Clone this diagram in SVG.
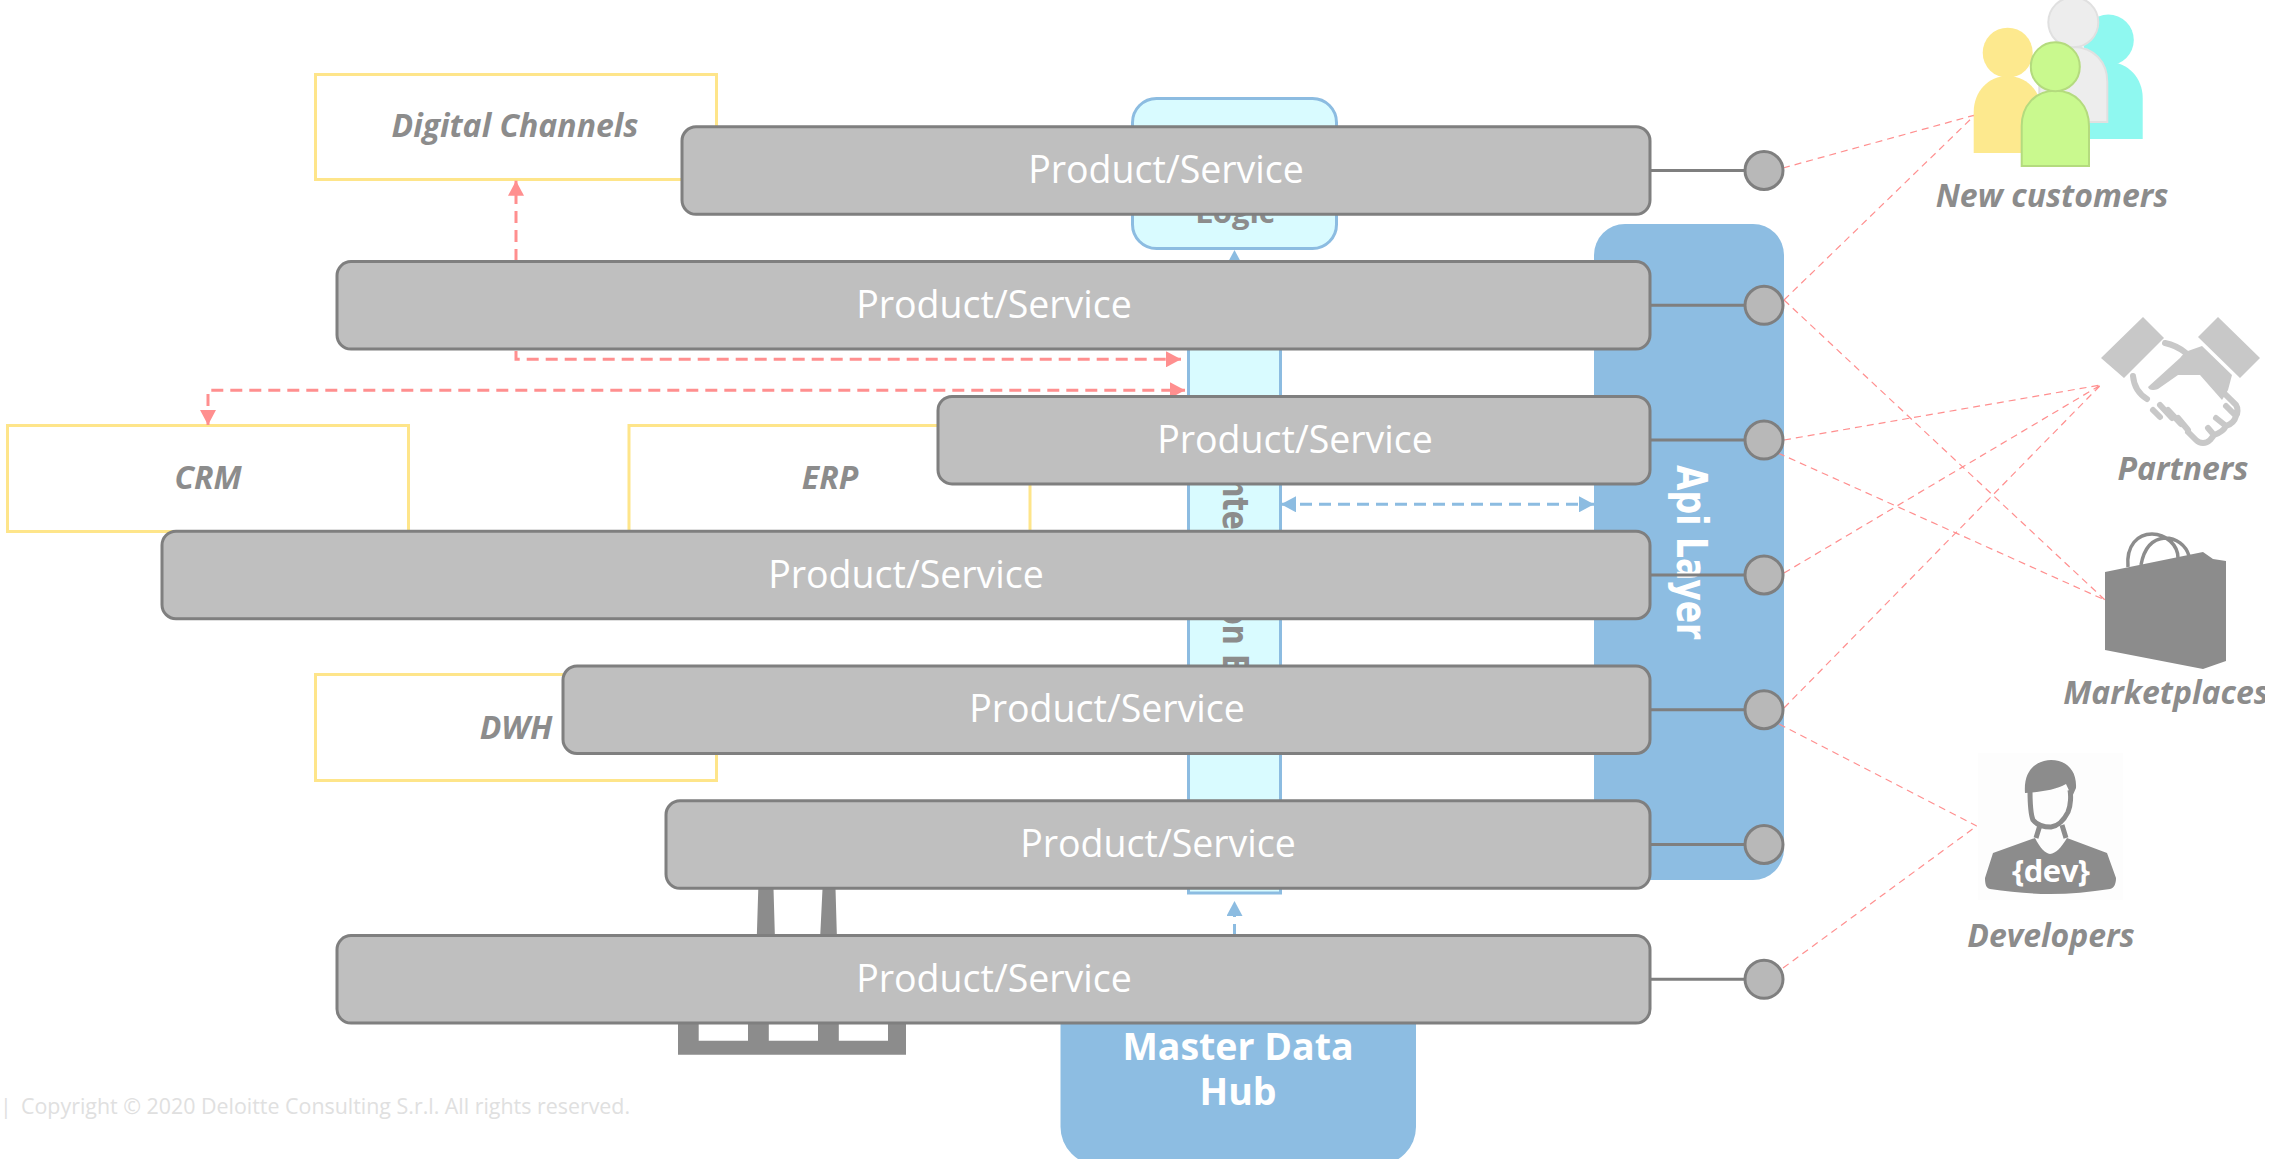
<svg xmlns="http://www.w3.org/2000/svg" width="2279" height="1159" viewBox="0 0 2279 1159">
<style>
text{font-family:"Open Sans","Noto Sans","DejaVu Sans",sans-serif}
.sys{fill:#fff;stroke:#fee58a;stroke-width:3}
.lbl{fill:#8c8c8c;font-weight:700;font-style:italic;font-size:32px;text-anchor:middle}
.bar{fill:#bfbfbf;stroke:#7f7f7f;stroke-width:3}
.barText{fill:#fff;font-size:37.500px;text-anchor:middle}
.dot{fill:#b8b8b8;stroke:#7f7f7f;stroke-width:3}
.blue{fill:#8dbde2}
.cy{fill:#d9fbff;stroke:#8cbce1;stroke-width:3}
.lead{stroke:#7f7f7f;stroke-width:3;fill:none}
.red{stroke:#ff8f8f;stroke-width:3;fill:none;stroke-dasharray:12 7}
.thin{stroke:#ff8f8f;stroke-width:1.200;fill:none;stroke-dasharray:7 5}
.bl{stroke:#8cbce1;stroke-width:3;fill:none;stroke-dasharray:12 7}
.grey{fill:#8c8c8c}
.hs{fill:#c8c8c8}
.hsl{stroke:#c8c8c8;fill:none;stroke-width:6;stroke-linecap:round}
.vert{font-family:"DejaVu Sans",sans-serif;font-weight:700}
.hd{fill:#8c8c8c;font-weight:700;font-size:31px;text-anchor:middle}
.wh{fill:#fff;font-weight:700;font-size:37.500px;text-anchor:middle}
</style>
<defs>
<marker id="ra" markerUnits="userSpaceOnUse" markerWidth="16" markerHeight="16" refX="15" refY="8" orient="auto-start-reverse"><path d="M0 0L15 8L0 16Z" fill="#ff8f8f"/></marker>
<marker id="ba" markerUnits="userSpaceOnUse" markerWidth="16" markerHeight="16" refX="15" refY="8" orient="auto-start-reverse"><path d="M0 0L15 8L0 16Z" fill="#8cbce1"/></marker>
<clipPath id="clipM"><rect x="2000" y="660" width="265" height="70"/></clipPath>
</defs>

<g id="digital-channels"><rect class="sys" x="315.500" y="74.500" width="401" height="105"/><text class="lbl" x="515" y="137">Digital Channels</text></g>
<g id="crm"><rect class="sys" x="7.500" y="425.500" width="401" height="106"/><text class="lbl" x="208" y="489">CRM</text></g>
<g id="erp"><rect class="sys" x="629" y="425.500" width="401" height="106"/><text class="lbl" x="830" y="489">ERP</text></g>
<g id="dwh"><rect class="sys" x="315.500" y="674.500" width="401" height="106"/><text class="lbl" x="516" y="739">DWH</text></g>

<g id="custom-logic"><rect class="cy" x="1132.500" y="98.500" width="204" height="150" rx="24"/><text class="hd" x="1235" y="148">Custom</text><text class="hd" x="1235" y="223">Logic</text></g>
<g id="integration-bus"><rect class="cy" x="1188.500" y="300" width="92" height="593"/><text class="vert" font-size="28" transform="translate(1222.700 467) rotate(90) scale(1 1.250)" fill="#8c8c8c">Integration Bus</text></g>
<g id="api-layer"><rect class="blue" x="1594" y="224" width="190" height="656" rx="31"/><text class="vert" font-size="33" fill="#fff" transform="translate(1677 465) rotate(90) scale(1 1.300)">Api Layer</text></g>
<g id="master-data-hub"><rect class="blue" x="1060.500" y="950" width="355.500" height="215" rx="38"/><text class="wh" x="1238" y="1060">Master Data</text><text class="wh" x="1238" y="1105">Hub</text></g>

<g id="factory"><path class="grey" d="M758.400 885H773.400L775 940H756.700Z M822.700 885H835.400L837 940H820Z"/><path class="grey" fill-rule="evenodd" d="M678 1000H906V1054.700H678ZM698.700 1015V1040.700H748V1015ZM768.800 1015V1040.700H818V1015ZM838.800 1015V1040.700H888V1015Z"/></g>

<g id="connectors">
<path class="lead" d="M1650 170.500H1745M1650 305.300H1745M1650 440.100H1745M1650 574.900H1745M1650 709.700H1745M1650 844.500H1745M1650 979.300H1745"/>
<path class="red" marker-end="url(#ra)" d="M516 261V180.700"/>
<path class="red" marker-end="url(#ra)" d="M516 351V359.300H1181"/>
<path class="red" marker-start="url(#ra)" marker-end="url(#ra)" d="M208 425V390.300H1185"/>
<path class="bl" marker-start="url(#ba)" marker-end="url(#ba)" d="M1281 504.300H1594"/>
<path class="bl" marker-end="url(#ba)" d="M1234.500 936V901"/>
<path class="bl" marker-end="url(#ba)" d="M1234.500 265V250"/>
<path class="thin" d="M1783 168L1975 115M1784 300L1975 115M1784 300L2105 600M1784 440L2100.700 385M1778 453L2105 600M1784 573L2100.700 385M1784 708L2100.700 385M1779 724L1976.700 826M1783 968L1976.700 826"/>
</g>

<g id="bar-1"><rect class="bar" x="682" y="126.800" width="968" height="87.500" rx="14"/><text class="barText" x="1166" y="183.200">Product/Service</text></g>
<g id="bar-2"><rect class="bar" x="337" y="261.600" width="1313" height="87.500" rx="14"/><text class="barText" x="994" y="318">Product/Service</text></g>
<g id="bar-3"><rect class="bar" x="938" y="396.400" width="712" height="87.500" rx="14"/><text class="barText" x="1295" y="452.800">Product/Service</text></g>
<g id="bar-4"><rect class="bar" x="162" y="531.200" width="1488" height="87.500" rx="14"/><text class="barText" x="906" y="587.600">Product/Service</text></g>
<g id="bar-5"><rect class="bar" x="563" y="666" width="1087" height="87.500" rx="14"/><text class="barText" x="1107" y="722.400">Product/Service</text></g>
<g id="bar-6"><rect class="bar" x="666" y="800.800" width="984" height="87.500" rx="14"/><text class="barText" x="1158" y="857.200">Product/Service</text></g>
<g id="bar-7"><rect class="bar" x="337" y="935.600" width="1313" height="87.500" rx="14"/><text class="barText" x="994" y="992">Product/Service</text></g>

<g id="dots"><circle class="dot" cx="1764" cy="170.500" r="19"/><circle class="dot" cx="1764" cy="305.300" r="19"/><circle class="dot" cx="1764" cy="440.100" r="19"/><circle class="dot" cx="1764" cy="574.900" r="19"/><circle class="dot" cx="1764" cy="709.700" r="19"/><circle class="dot" cx="1764" cy="844.500" r="19"/><circle class="dot" cx="1764" cy="979.300" r="19"/></g>

<g id="new-customers">
<path fill="#8ff8f0" d="M2074 139V98C2074 78 2088 62 2108 62C2128 62 2142.700 78 2142.700 98V139Z"/><circle cx="2108.300" cy="40" r="25.500" fill="#8ff8f0"/>
<path fill="#ededed" stroke="#e0e0e0" stroke-width="2" d="M2039.300 122V82C2039.300 62 2052 47 2073 47C2094 47 2107.300 62 2107.300 82V122Z"/><circle cx="2073.300" cy="22.300" r="25" fill="#ededed" stroke="#e0e0e0" stroke-width="2"/>
<path fill="#fde98e" d="M1973.700 153V112C1973.700 92 1988 76 2007.700 76C2027 76 2041.700 92 2041.700 112V153Z"/><circle cx="2007.700" cy="52.700" r="25" fill="#fde98e"/>
<path fill="#c9f98e" stroke="#b4db7e" stroke-width="2" d="M2021.700 166V126C2021.700 106 2035 90.700 2055.300 90.700C2076 90.700 2089 106 2089 126V166Z"/><circle cx="2055.300" cy="66.700" r="24.500" fill="#c9f98e" stroke="#b4db7e" stroke-width="2"/>
<text class="lbl" x="2052" y="207">New customers</text></g>

<g id="partners">
<path class="hs" d="M2143 317L2164 338L2124 378L2101 358Z M2218 317L2260 358L2240 378L2198 337Z"/>
<path class="hs" d="M2202 346L2232 375L2228 390L2222 400L2200 375H2178L2158 389C2152 391 2149 390 2148 387L2180 358L2185 352Z"/>
<path class="hsl" d="M2165 343C2175 345 2181 349 2186 353M2133 376C2134 387 2139 394 2147 399"/>
<path class="hsl" d="M2153 410L2160 417M2160 405L2172 418M2168 410L2181 424M2178 418L2188 430" stroke-width="13"/>
<path class="hsl" d="M2188 432L2196 440C2200 444 2206 444 2210 440L2214 435L2208 428M2214 435C2220 433 2224 430 2226 426L2216 418M2226 426C2232 424 2235 420 2236 416L2226 406M2236 416C2238 414 2238 408 2236 405L2226 395"/>
<text class="lbl" x="2183" y="480">Partners</text></g>

<g id="marketplaces">
<path class="grey" d="M2105 572L2203 552L2213 559L2226 561V661L2203 669L2105 650Z"/>
<path fill="none" stroke="#8c8c8c" stroke-width="3.500" d="M2128 567C2126 545 2138 534 2152 534C2166 534 2178 545 2178 558M2141 565C2144 548 2152 539 2165 538C2176 538 2186 545 2189 556"/>
<text class="lbl" x="2166" y="704" clip-path="url(#clipM)">Marketplaces</text></g>

<g id="developers">
<rect x="1978" y="753" width="145" height="147" fill="#fdfdfd"/>
<path class="grey" d="M1985 878L1993 853L2035 838C2040 848 2045 853 2050 854C2056 853 2061 848 2067 838L2107 853L2116 878C2116 884 2114 888 2110 889C2090 892 2070 894 2050 894C2030 894 2010 892 1990 889C1986 888 1985 884 1985 878Z"/>
<path fill="none" stroke="#8c8c8c" stroke-width="5" d="M2030 790C2030 805 2031 815 2033 820C2038 826 2045 827 2051 827C2058 826 2064 820 2068 812C2071 805 2071 795 2070 790M2040 825L2036 838M2062 825L2066 838"/>
<path class="grey" d="M2025 793C2023 767 2040 760 2051 760C2066 760 2077 770 2076 788L2072 797L2066 784C2056 790 2040 792 2025 793Z"/>
<text x="2051" y="882" fill="#fff" font-weight="700" font-size="31" text-anchor="middle" textLength="78">{dev}</text>
<text class="lbl" x="2051" y="947">Developers</text></g>

<g id="copyright"><text y="1114" fill="#e0e0e0" font-size="21.400"><tspan x="0">|</tspan><tspan x="21">Copyright © 2020 Deloitte Consulting S.r.l. All rights reserved.</tspan></text></g>
</svg>
